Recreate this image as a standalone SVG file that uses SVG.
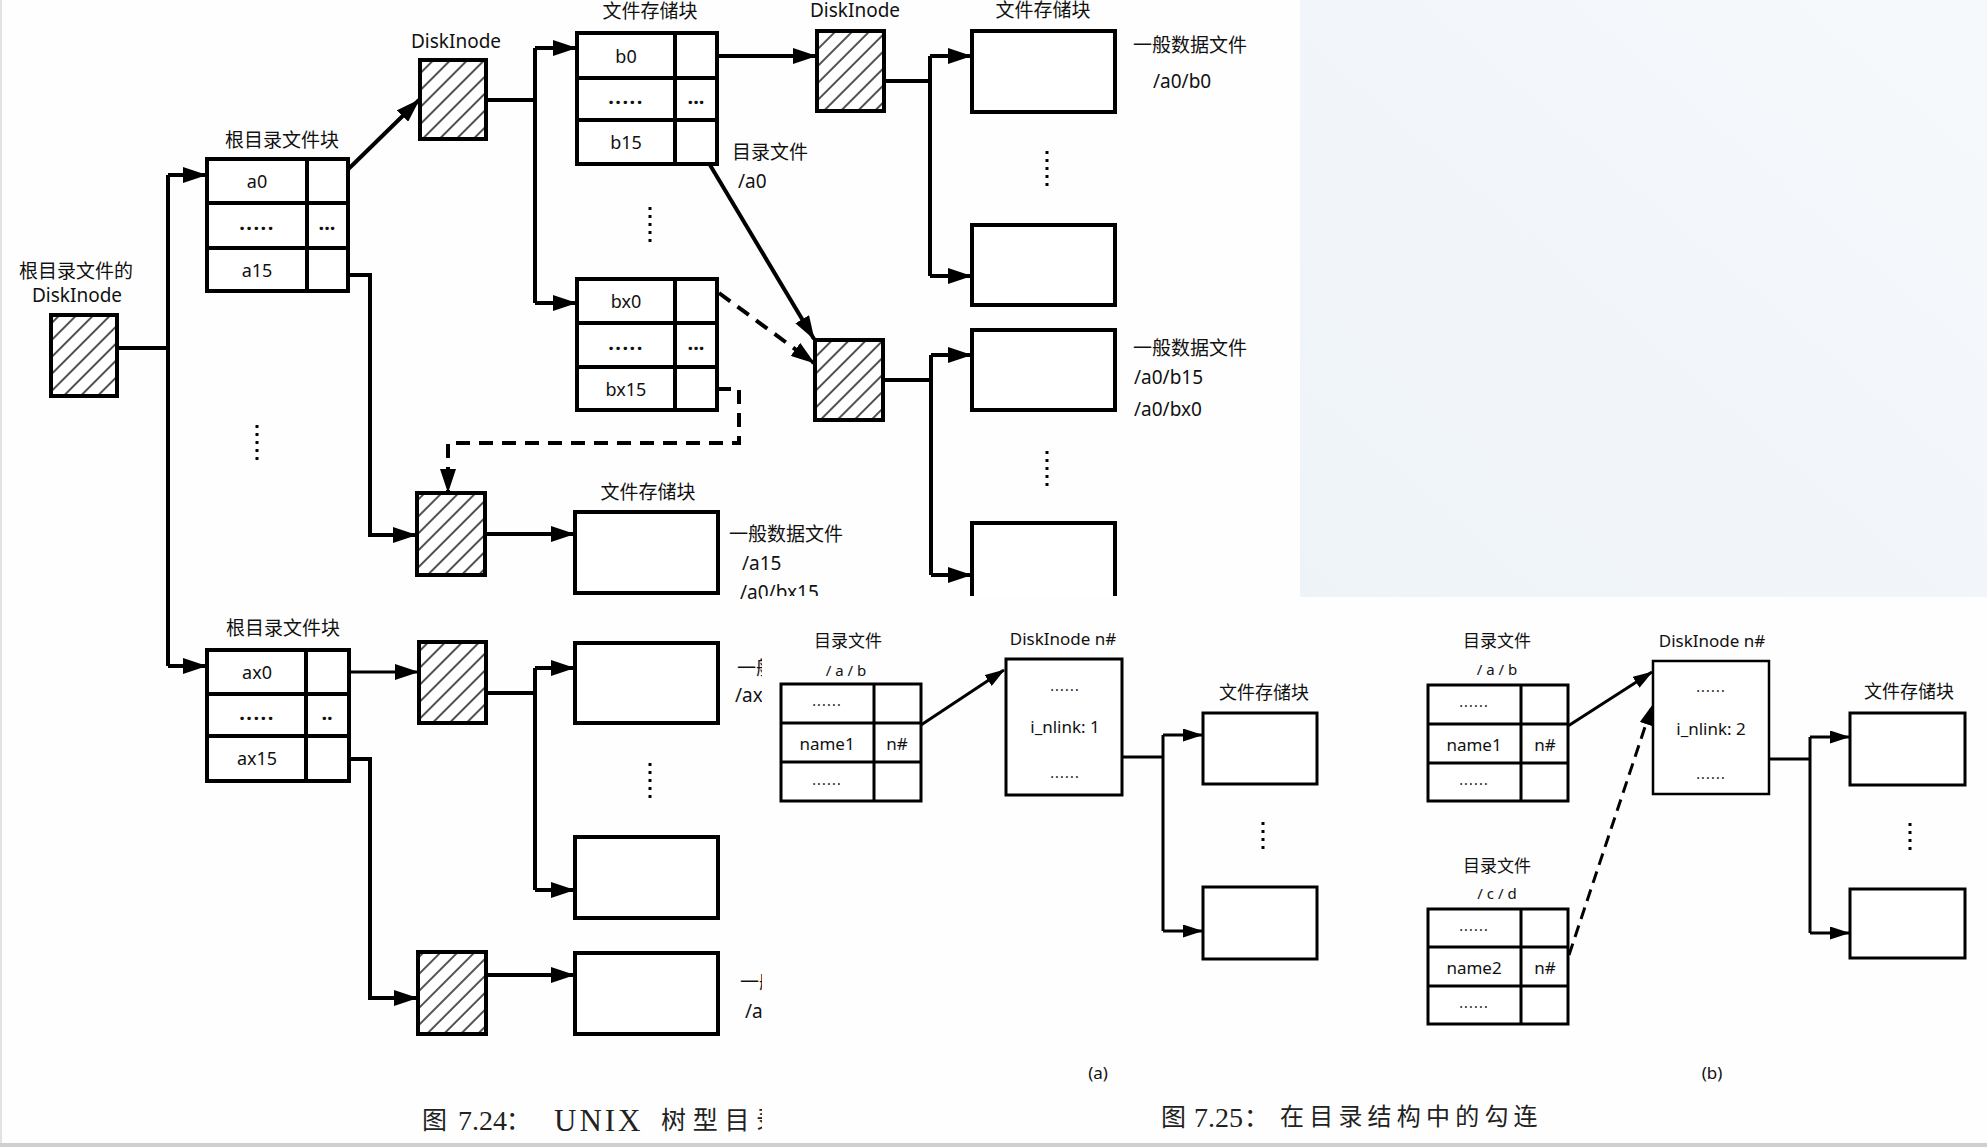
<svg xmlns="http://www.w3.org/2000/svg" width="1987" height="1147" viewBox="0 0 1987 1147">
<defs>
<style>
.bx{fill:#fff;stroke:#000;stroke-width:4}
.bt{fill:#fff;stroke:#000;stroke-width:3}
.hb{fill:url(#hatch);stroke:#000;stroke-width:4}
.ln{fill:none;stroke:#000;stroke-width:4}
.lt{fill:none;stroke:#000;stroke-width:3}
.dl{fill:none;stroke:#000;stroke-width:4;stroke-dasharray:14 9}
.dots{fill:none;stroke:#000;stroke-width:3;stroke-dasharray:3 5}
text{font-family:"Noto Sans","Noto Sans CJK SC",sans-serif;fill:#111}
.t{font-size:19px;text-anchor:middle;dominant-baseline:central}
.tl{font-size:19px;dominant-baseline:central}
.c{font-size:18px;text-anchor:middle;dominant-baseline:central}
.c2{font-size:17px;text-anchor:middle;dominant-baseline:central}
.e{font-size:20px;font-weight:bold;text-anchor:middle;dominant-baseline:central;letter-spacing:1.5px}
.e3{font-size:20px;font-weight:bold;text-anchor:middle;dominant-baseline:central}
.s{font-size:17px;text-anchor:middle;dominant-baseline:central}
.p{font-size:15px;text-anchor:middle;dominant-baseline:central}
.sd{font-size:14px;text-anchor:middle;dominant-baseline:central;letter-spacing:1.2px}
.cap{font-family:"Liberation Serif","Noto Sans CJK SC",serif;dominant-baseline:central;fill:#222}
</style>
<pattern id="hatch" patternUnits="userSpaceOnUse" width="12" height="12" patternTransform="rotate(45)">
<rect width="12" height="12" fill="#fff"/>
<line x1="1" y1="0" x2="1" y2="12" stroke="#333" stroke-width="1.7"/>
</pattern>
<marker id="ah" viewBox="0 0 24 16" refX="23" refY="8" markerWidth="24" markerHeight="16" markerUnits="userSpaceOnUse" orient="auto"><path d="M0,0 L24,8 L0,16 z" fill="#000"/></marker>
<marker id="as" viewBox="0 0 20 13" refX="19" refY="6.5" markerWidth="20" markerHeight="13" markerUnits="userSpaceOnUse" orient="auto"><path d="M0,0 L20,6.5 L0,13 z" fill="#000"/></marker>
<linearGradient id="bg" x1="0" y1="1" x2="1" y2="0">
<stop offset="0" stop-color="#eef3f8"/>
<stop offset="1" stop-color="#f6f9fc"/>
</linearGradient>
<clipPath id="leftclip">
<rect x="0" y="0" width="1987" height="596"/>
<rect x="0" y="596" width="762" height="551"/>
</clipPath>
</defs>

<rect x="0" y="0" width="1987" height="1147" fill="#fefefe"/>
<rect x="1300" y="0" width="687" height="597" fill="url(#bg)"/>
<rect x="0" y="0" width="2" height="1147" fill="#e2e2e2"/>
<rect x="0" y="1143" width="1987" height="4" fill="#cfcfcf"/>

<g id="fig724" clip-path="url(#leftclip)">
<g id="connectors-724">
<path class="ln" d="M117,348 H168 M168,175 V666"/>
<path class="ln" marker-end="url(#ah)" d="M168,175 H206"/>
<path class="ln" marker-end="url(#ah)" d="M168,666 H206"/>
<path class="ln" marker-end="url(#ah)" d="M330,187 L419,100"/>
<path class="ln" marker-end="url(#ah)" d="M322,275 H370 V535 H416"/>
<path class="ln" d="M486,100 H535 M535,48 V303"/>
<path class="ln" marker-end="url(#ah)" d="M535,48 H576"/>
<path class="ln" marker-end="url(#ah)" d="M535,303 H576"/>
<path class="ln" marker-end="url(#ah)" d="M717,56 H816"/>
<path class="ln" d="M884,81 H930 M930,56 V276"/>
<path class="ln" marker-end="url(#ah)" d="M930,56 H971"/>
<path class="ln" marker-end="url(#ah)" d="M930,276 H971"/>
<path class="ln" marker-end="url(#ah)" d="M710,165 L814,339"/>
<path class="dl" marker-end="url(#ah)" d="M719,293 L814,363"/>
<path class="ln" d="M883,380 H931 M931,355 V575"/>
<path class="ln" marker-end="url(#ah)" d="M931,355 H971"/>
<path class="ln" marker-end="url(#ah)" d="M931,575 H971"/>
<path class="dl" marker-end="url(#ah)" d="M717,389 H739 V443 H448 V492"/>
<path class="ln" marker-end="url(#ah)" d="M485,534 H574"/>
<path class="lt" marker-end="url(#ah)" d="M327,672 H418"/>
<path class="ln" d="M486,693 H535 M535,668 V890"/>
<path class="ln" marker-end="url(#ah)" d="M535,668 H574"/>
<path class="ln" marker-end="url(#ah)" d="M535,890 H574"/>
<path class="ln" marker-end="url(#ah)" d="M323,759 H370 V998 H417"/>
<path class="ln" marker-end="url(#ah)" d="M486,975 H574"/>
</g>

<g id="root-inode">
<text class="t" x="76" y="271">根目录文件的</text>
<text class="t" x="77" y="295">DiskInode</text>
<rect class="hb" x="51" y="315" width="66" height="81"/>
</g>

<g id="root-table-top">
<text class="t" x="282" y="140">根目录文件块</text>
<rect class="bx" x="207" y="159" width="141" height="132"/>
<path class="ln" d="M307,159 V291 M207,203 H348 M207,248 H348"/>
<text class="c" x="257" y="181">a0</text>
<text class="e" x="257" y="222">.....</text>
<text class="c" x="257" y="270">a15</text>
<text class="e3" x="327" y="222">...</text>
</g>

<g id="inode-a0">
<text class="t" x="456" y="41">DiskInode</text>
<rect class="hb" x="420" y="60" width="66" height="79"/>
</g>

<g id="table-b">
<text class="t" x="650" y="11">文件存储块</text>
<rect class="bx" x="577" y="33" width="140" height="131"/>
<path class="ln" d="M675,33 V164 M577,78 H717 M577,120 H717"/>
<text class="c" x="626" y="56">b0</text>
<text class="e" x="626" y="96">.....</text>
<text class="c" x="626" y="142">b15</text>
<text class="e3" x="696" y="96">...</text>
</g>

<g id="inode-b0">
<text class="t" x="855" y="10">DiskInode</text>
<rect class="hb" x="817" y="31" width="67" height="80"/>
</g>

<g id="data-b0">
<text class="t" x="1043" y="10">文件存储块</text>
<rect class="bx" x="972" y="31" width="143" height="81"/>
<rect class="bx" x="972" y="225" width="143" height="80"/>
<line class="dots" x1="1047" y1="151" x2="1047" y2="189"/>
<text class="tl" x="1133" y="45">一般数据文件</text>
<text class="tl" x="1153" y="81">/a0/b0</text>
</g>

<g id="table-bx">
<line class="dots" x1="650" y1="207" x2="650" y2="242"/>
<rect class="bx" x="577" y="279" width="140" height="131"/>
<path class="ln" d="M675,279 V410 M577,323 H717 M577,367 H717"/>
<text class="c" x="626" y="301">bx0</text>
<text class="e" x="626" y="342">.....</text>
<text class="c" x="626" y="389">bx15</text>
<text class="e3" x="696" y="342">...</text>
<text class="tl" x="732" y="152">目录文件</text>
<text class="tl" x="738" y="181">/a0</text>
</g>

<g id="inode-b15">
<rect class="hb" x="815" y="340" width="68" height="80"/>
</g>

<g id="data-b15">
<rect class="bx" x="972" y="330" width="143" height="80"/>
<line class="dots" x1="1047" y1="451" x2="1047" y2="489"/>
<rect class="bx" x="972" y="523" width="143" height="100"/>
<text class="tl" x="1133" y="348">一般数据文件</text>
<text class="tl" x="1134" y="377">/a0/b15</text>
<text class="tl" x="1134" y="409">/a0/bx0</text>
</g>

<g id="inode-a15">
<line class="dots" x1="257" y1="425" x2="257" y2="461"/>
<rect class="hb" x="417" y="493" width="68" height="82"/>
</g>

<g id="data-a15">
<text class="t" x="648" y="492">文件存储块</text>
<rect class="bx" x="575" y="512" width="143" height="81"/>
<text class="tl" x="729" y="534">一般数据文件</text>
<text class="tl" x="742" y="563">/a15</text>
<text class="tl" x="740" y="592">/a0/bx15</text>
</g>

<g id="root-table-bottom">
<text class="t" x="283" y="628">根目录文件块</text>
<rect class="bx" x="207" y="650" width="142" height="131"/>
<path class="ln" d="M306,650 V781 M207,694 H349 M207,736 H349"/>
<text class="c" x="257" y="672">ax0</text>
<text class="e" x="257" y="712">.....</text>
<text class="c" x="257" y="758">ax15</text>
<text class="e3" x="327" y="712">..</text>
</g>

<g id="inode-ax0">
<rect class="hb" x="419" y="642" width="67" height="81"/>
</g>

<g id="data-ax0">
<rect class="bx" x="575" y="643" width="143" height="80"/>
<line class="dots" x1="650" y1="763" x2="650" y2="803"/>
<rect class="bx" x="575" y="837" width="143" height="81"/>
<text class="tl" x="737" y="668">一般</text>
<text class="tl" x="735" y="695">/ax0</text>
</g>

<g id="inode-ax15">
<rect class="hb" x="418" y="952" width="68" height="82"/>
</g>

<g id="data-ax15">
<rect class="bx" x="575" y="953" width="143" height="81"/>
<text class="tl" x="740" y="982">一般</text>
<text class="tl" x="745" y="1011">/ax15</text>
</g>

<text class="cap" y="1120"><tspan x="422" font-size="25">图</tspan><tspan x="458" font-size="28">7.24</tspan><tspan x="506" font-size="25">：</tspan><tspan x="554" font-size="31" letter-spacing="3">UNIX</tspan><tspan x="661" font-size="25" letter-spacing="6.7">树型目录</tspan></text>
</g>

<g id="fig725">
<g id="connectors-725">
<path class="lt" marker-end="url(#as)" d="M921,725 L1004,670"/>
<path class="lt" d="M1120,757 H1163 M1163,735 V931"/>
<path class="lt" marker-end="url(#as)" d="M1163,735 H1202"/>
<path class="lt" marker-end="url(#as)" d="M1163,931 H1202"/>
<path class="lt" marker-end="url(#as)" d="M1568,726 L1652,672"/>
<path class="lt" marker-end="url(#as)" style="stroke-dasharray:12 7" d="M1569,955 L1652,706"/>
<path class="lt" d="M1767,759 H1810 M1810,737 V933"/>
<path class="lt" marker-end="url(#as)" d="M1810,737 H1849"/>
<path class="lt" marker-end="url(#as)" d="M1810,933 H1849"/>
</g>

<g id="dir-ab-a">
<text class="c2" x="848" y="640">目录文件</text>
<text class="p" x="846" y="670">/ a / b</text>
<rect class="bt" x="781" y="684" width="140" height="117"/>
<path class="lt" d="M874,684 V801 M781,723 H921 M781,762 H921"/>
<text class="sd" x="827" y="700">......</text>
<text class="s" x="827" y="743">name1</text>
<text class="sd" x="827" y="779">......</text>
<text class="s" x="897" y="743">n#</text>
</g>

<g id="inode-n-a">
<text class="s" x="1063" y="638">DiskInode n#</text>
<rect class="bt" x="1006" y="659" width="116" height="136"/>
<text class="sd" x="1065" y="685">......</text>
<text class="s" x="1065" y="726">i_nlink: 1</text>
<text class="sd" x="1065" y="772">......</text>
</g>

<g id="data-a">
<text class="c" x="1264" y="692">文件存储块</text>
<rect class="bt" x="1203" y="713" width="114" height="71"/>
<line class="dots" x1="1263" y1="822" x2="1263" y2="850"/>
<rect class="bt" x="1203" y="887" width="114" height="72"/>
<text class="s" x="1098" y="1072">(a)</text>
</g>

<g id="dir-ab-b">
<text class="c2" x="1497" y="640">目录文件</text>
<text class="p" x="1497" y="669">/ a / b</text>
<rect class="bt" x="1428" y="685" width="140" height="116"/>
<path class="lt" d="M1521,685 V801 M1428,724 H1568 M1428,763 H1568"/>
<text class="sd" x="1474" y="701">......</text>
<text class="s" x="1474" y="744">name1</text>
<text class="sd" x="1474" y="779">......</text>
<text class="s" x="1545" y="744">n#</text>
</g>

<g id="dir-cd-b">
<text class="c2" x="1497" y="865">目录文件</text>
<text class="p" x="1497" y="893">/ c / d</text>
<rect class="bt" x="1428" y="909" width="140" height="115"/>
<path class="lt" d="M1521,909 V1024 M1428,947 H1568 M1428,986 H1568"/>
<text class="sd" x="1474" y="925">......</text>
<text class="s" x="1474" y="967">name2</text>
<text class="sd" x="1474" y="1002">......</text>
<text class="s" x="1545" y="967">n#</text>
</g>

<g id="inode-n-b">
<text class="s" x="1712" y="640">DiskInode n#</text>
<rect x="1653" y="661" width="116" height="133" fill="#fff" stroke="#000" stroke-width="2.5"/>
<text class="sd" x="1711" y="686">......</text>
<text class="s" x="1711" y="728">i_nlink: 2</text>
<text class="sd" x="1711" y="773">......</text>
</g>

<g id="data-b">
<text class="c" x="1909" y="691">文件存储块</text>
<rect class="bt" x="1850" y="713" width="115" height="72"/>
<line class="dots" x1="1910" y1="823" x2="1910" y2="853"/>
<rect class="bt" x="1850" y="889" width="115" height="69"/>
<text class="s" x="1712" y="1072">(b)</text>
</g>

<text class="cap" y="1117"><tspan x="1161" font-size="25">图</tspan><tspan x="1194" font-size="28">7.25</tspan><tspan x="1244" font-size="25">：</tspan><tspan x="1280" font-size="24" letter-spacing="5.2">在目录结构中的勾连</tspan></text>
</g>
</svg>
